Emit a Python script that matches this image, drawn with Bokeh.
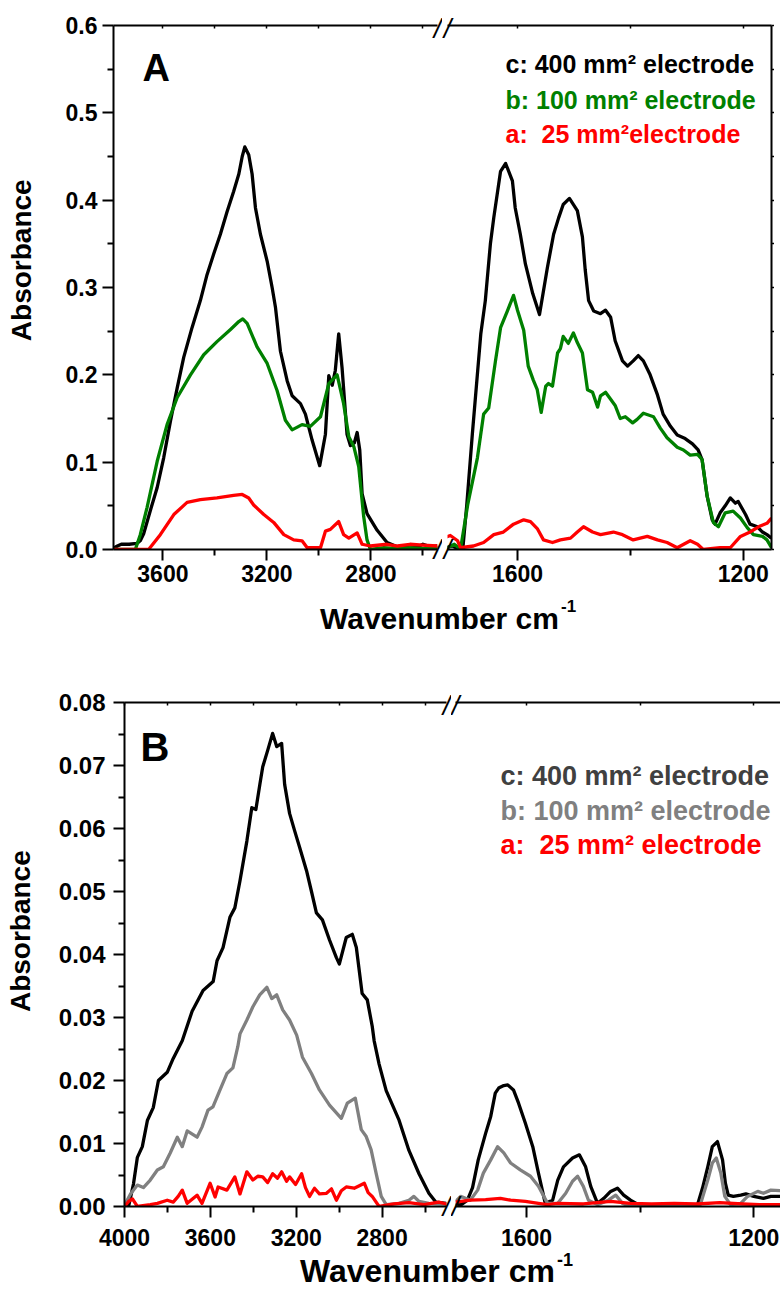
from bokeh.plotting import figure
from bokeh.models import Range1d, LinearAxis, FixedTicker, NumeralTickFormatter, Label, Div
from bokeh.layouts import row, column
from bokeh.embed import file_html
from bokeh.resources import INLINE

FONT = "Liberation Sans"

# ---------------- Panel A data (wavenumber cm-1, absorbance) ----------------
a_left_c_wn = [3800, 3775, 3760, 3730, 3700, 3687, 3674, 3648, 3622, 3597, 3571, 3545, 3520, 3488, 3456,
               3430, 3405, 3379, 3353, 3328, 3308, 3295, 3285, 3270, 3257, 3244, 3225, 3199, 3180, 3167,
               3148, 3122, 3103, 3071, 3052, 3026, 2997, 2975, 2962, 2949, 2937, 2924, 2911, 2892, 2879,
               2864, 2853, 2843, 2834, 2815, 2776, 2738, 2699, 2650, 2620, 2600, 2570, 2544]
a_left_c_abs = [0.000, 0.004, 0.006, 0.006, 0.007, 0.010, 0.018, 0.045, 0.071, 0.105, 0.147, 0.185, 0.220, 0.254, 0.285,
                0.315, 0.338, 0.361, 0.387, 0.410, 0.430, 0.450, 0.461, 0.452, 0.430, 0.391, 0.361, 0.330, 0.300, 0.277,
                0.227, 0.193, 0.176, 0.167, 0.155, 0.125, 0.096, 0.132, 0.199, 0.188, 0.205, 0.247, 0.208, 0.132, 0.119,
                0.122, 0.134, 0.114, 0.064, 0.041, 0.022, 0.008, 0.003, 0.005, 0.003, 0.006, 0.003, 0.004]

a_left_b_wn = [3800, 3706, 3687, 3661, 3622, 3584, 3545, 3494, 3443, 3392, 3340, 3308, 3293, 3276, 3238,
               3199, 3161, 3129, 3103, 3065, 3033, 2994, 2962, 2930, 2905, 2885, 2866, 2847, 2828, 2815,
               2802, 2750, 2700, 2650, 2600, 2544]
a_left_b_abs = [0.000, 0.000, 0.017, 0.048, 0.101, 0.143, 0.174, 0.200, 0.223, 0.238, 0.252, 0.261, 0.264, 0.259, 0.232,
                0.213, 0.182, 0.148, 0.137, 0.143, 0.141, 0.152, 0.190, 0.200, 0.167, 0.129, 0.118, 0.095, 0.038, 0.011,
                0.000, 0.002, 0.001, 0.002, 0.001, 0.002]

a_left_a_wn = [3800, 3655, 3610, 3558, 3507, 3456, 3392, 3328, 3295, 3270, 3251, 3212, 3174, 3135, 3097,
               3065, 3045, 2994, 2975, 2956, 2924, 2905, 2885, 2853, 2834, 2802, 2738, 2698, 2650, 2600, 2544]
a_left_a_abs = [0.000, 0.000, 0.017, 0.040, 0.054, 0.057, 0.059, 0.062, 0.063, 0.059, 0.051, 0.040, 0.031, 0.017, 0.011,
                0.010, 0.002, 0.002, 0.021, 0.023, 0.032, 0.017, 0.013, 0.019, 0.006, 0.004, 0.006, 0.004, 0.006, 0.005, 0.004]

a_right_c_wn = [1728, 1715, 1706, 1697, 1690, 1680, 1665, 1657, 1648, 1642, 1630, 1621, 1609, 1604, 1595,
                1586, 1573, 1561, 1547, 1536, 1527, 1519, 1508, 1494, 1485, 1480, 1474, 1465, 1453, 1444,
                1435, 1427, 1414, 1405, 1395, 1386, 1377, 1365, 1352, 1342, 1329, 1317, 1303, 1290, 1280,
                1273, 1264, 1255, 1250, 1241, 1232, 1223, 1214, 1209, 1196, 1188, 1175, 1166, 1158, 1150]
a_right_c_abs = [0.002, 0.004, 0.001, 0.000, 0.050, 0.132, 0.247, 0.285, 0.350, 0.380, 0.433, 0.442, 0.422, 0.391, 0.361,
                 0.327, 0.293, 0.269, 0.323, 0.361, 0.380, 0.395, 0.402, 0.388, 0.358, 0.320, 0.285, 0.273, 0.270, 0.274,
                 0.266, 0.239, 0.216, 0.210, 0.216, 0.222, 0.216, 0.200, 0.177, 0.155, 0.141, 0.131, 0.127, 0.121, 0.114,
                 0.103, 0.061, 0.034, 0.029, 0.042, 0.050, 0.059, 0.053, 0.055, 0.040, 0.029, 0.026, 0.020, 0.017, 0.013]

a_right_b_wn = [1728, 1712, 1706, 1701, 1688, 1671, 1660, 1651, 1639, 1630, 1618, 1607, 1600, 1589, 1581,
                1572, 1565, 1558, 1550, 1545, 1538, 1529, 1524, 1519, 1510, 1501, 1494, 1485, 1476, 1467,
                1458, 1453, 1444, 1435, 1427, 1418, 1409, 1396, 1388, 1377, 1359, 1347, 1335, 1317, 1306,
                1294, 1281, 1273, 1264, 1253, 1244, 1232, 1218, 1205, 1193, 1182, 1166, 1158, 1150]
a_right_b_abs = [0.001, 0.006, 0.003, 0.000, 0.052, 0.105, 0.155, 0.162, 0.216, 0.254, 0.273, 0.291, 0.274, 0.251, 0.210,
                 0.194, 0.183, 0.157, 0.187, 0.190, 0.187, 0.225, 0.230, 0.244, 0.236, 0.248, 0.237, 0.225, 0.183, 0.180,
                 0.163, 0.176, 0.180, 0.172, 0.165, 0.150, 0.152, 0.145, 0.149, 0.156, 0.152, 0.139, 0.128, 0.117, 0.114,
                 0.108, 0.109, 0.103, 0.061, 0.031, 0.026, 0.042, 0.044, 0.036, 0.025, 0.017, 0.015, 0.011, 0.002]

a_right_a_wn = [1728, 1719, 1706, 1701, 1678, 1660, 1642, 1625, 1607, 1589, 1577, 1565, 1554, 1538, 1524,
                1506, 1494, 1483, 1467, 1453, 1430, 1414, 1395, 1370, 1352, 1335, 1317, 1294, 1281, 1271,
                1241, 1223, 1205, 1188, 1170, 1158, 1150]
a_right_a_abs = [0.014, 0.016, 0.010, 0.002, 0.004, 0.008, 0.017, 0.020, 0.029, 0.034, 0.032, 0.024, 0.011, 0.008, 0.011,
                 0.013, 0.020, 0.026, 0.020, 0.017, 0.020, 0.017, 0.011, 0.015, 0.011, 0.008, 0.002, 0.010, 0.006, 0.000,
                 0.002, 0.002, 0.015, 0.020, 0.027, 0.030, 0.036]

# ---------------- Panel B data ----------------
b_left_c_wn = [4000, 3981, 3958, 3940, 3917, 3893, 3866, 3842, 3801, 3773, 3731, 3685, 3634, 3587, 3569,
               3541, 3509, 3486, 3462, 3430, 3407, 3388, 3369, 3356, 3333, 3310, 3291, 3268, 3254, 3231,
               3208, 3184, 3152, 3129, 3106, 3078, 3045, 3013, 2999, 2967, 2939, 2920, 2893, 2869, 2846,
               2837, 2814, 2781, 2721, 2675, 2628, 2582, 2550, 2500]
b_left_c_abs = [0.0, 0.0, 0.0036, 0.0078, 0.0095, 0.0137, 0.0157, 0.0200, 0.0213, 0.0235, 0.0263, 0.0310, 0.0343, 0.0357, 0.0390,
                0.0411, 0.0459, 0.0474, 0.0517, 0.0580, 0.0633, 0.0630, 0.0671, 0.0698, 0.0724, 0.0751, 0.0730, 0.0735, 0.0670, 0.0624,
                0.0597, 0.0570, 0.0533, 0.0500, 0.0466, 0.0455, 0.0423, 0.0395, 0.0385, 0.0427, 0.0432, 0.0411, 0.0338, 0.0328, 0.0286,
                0.0263, 0.0226, 0.0184, 0.0137, 0.0089, 0.0052, 0.0021, 0.0007, 0.0005]

b_left_b_wn = [4000, 3995, 3972, 3940, 3912, 3880, 3847, 3819, 3787, 3754, 3731, 3708, 3662, 3639, 3611,
               3588, 3555, 3523, 3495, 3472, 3462, 3430, 3402, 3370, 3337, 3314, 3291, 3263, 3231, 3198,
               3171, 3129, 3092, 3045, 2990, 2962, 2925, 2897, 2874, 2851, 2828, 2804, 2781, 2721, 2675,
               2652, 2628, 2582, 2500]
b_left_b_abs = [0.0, 0.0005, 0.0020, 0.0034, 0.0030, 0.0042, 0.0058, 0.0063, 0.0085, 0.0110, 0.0095, 0.0120, 0.0110, 0.0126, 0.0153,
                0.0158, 0.0185, 0.0211, 0.0220, 0.0254, 0.0274, 0.0296, 0.0317, 0.0336, 0.0348, 0.0330, 0.0336, 0.0312, 0.0296, 0.0272,
                0.0237, 0.0211, 0.0185, 0.0161, 0.0140, 0.0164, 0.0172, 0.0122, 0.0111, 0.0090, 0.0053, 0.0016, 0.0003, 0.0005, 0.0010,
                0.0016, 0.0008, 0.0005, 0.0004]

b_left_a_wn = [4000, 3981, 3963, 3940, 3880, 3847, 3801, 3773, 3750, 3731, 3708, 3662, 3639, 3601, 3578,
               3564, 3523, 3486, 3462, 3430, 3402, 3379, 3356, 3333, 3310, 3287, 3268, 3245, 3231, 3203,
               3175, 3157, 3138, 3115, 3092, 3059, 3036, 3013, 2990, 2967, 2930, 2906, 2883, 2865, 2846,
               2814, 2744, 2675, 2605, 2536, 2500]
b_left_a_abs = [0.0, 0.0008, 0.0012, 0.0, 0.0003, 0.0005, 0.0010, 0.0007, 0.0016, 0.0026, 0.0005, 0.0018, 0.0005, 0.0037, 0.0015,
                0.0031, 0.0026, 0.0047, 0.0020, 0.0055, 0.0042, 0.0048, 0.0047, 0.0038, 0.0052, 0.0045, 0.0055, 0.0040, 0.0047, 0.0035,
                0.0052, 0.0030, 0.0016, 0.0029, 0.0020, 0.0021, 0.0028, 0.0010, 0.0025, 0.0031, 0.0029, 0.0033, 0.0037, 0.0022, 0.0016,
                0.0, 0.0004, 0.0006, 0.0003, 0.0007, 0.0004]

b_right_c_wn = [1725, 1716, 1704, 1695, 1685, 1672, 1663, 1655, 1649, 1640, 1633, 1623, 1614, 1602, 1589,
                1579, 1567, 1554, 1545, 1535, 1519, 1507, 1496, 1487, 1475, 1464, 1452, 1440, 1429, 1417,
                1403, 1382, 1346, 1299, 1290, 1281, 1273, 1264, 1255, 1250, 1245, 1236, 1223, 1214, 1200,
                1183, 1170, 1153]
b_right_c_abs = [0.0005, 0.0002, 0.0010, 0.0030, 0.0074, 0.0116, 0.0143, 0.0180, 0.0188, 0.0192, 0.0193, 0.0185, 0.0164, 0.0132, 0.0095,
                 0.0053, 0.0005, 0.0010, 0.0042, 0.0063, 0.0077, 0.0082, 0.0063, 0.0032, 0.0005, 0.0013, 0.0024, 0.0029, 0.0018, 0.0010,
                 0.0003, 0.0002, 0.0002, 0.0003, 0.0030, 0.0063, 0.0095, 0.0103, 0.0074, 0.0037, 0.0018, 0.0016, 0.0018, 0.0020, 0.0016,
                 0.0013, 0.0016, 0.0016]

b_right_b_wn = [1725, 1716, 1704, 1699, 1686, 1676, 1663, 1651, 1640, 1628, 1611, 1593, 1579, 1563, 1545,
                1531, 1519, 1510, 1500, 1491, 1475, 1456, 1443, 1431, 1417, 1294, 1281, 1273, 1266, 1258,
                1251, 1241, 1223, 1211, 1193, 1183, 1170, 1153]
b_right_b_abs = [0.0008, 0.0016, 0.0012, 0.0010, 0.0026, 0.0053, 0.0074, 0.0095, 0.0085, 0.0069, 0.0058, 0.0048, 0.0032, 0.0005, 0.0005,
                 0.0021, 0.0040, 0.0048, 0.0032, 0.0010, 0.0003, 0.0010, 0.0018, 0.0005, 0.0000, 0.0003, 0.0042, 0.0069, 0.0077, 0.0053,
                 0.0016, 0.0003, 0.0005, 0.0016, 0.0024, 0.0021, 0.0026, 0.0025]

b_right_a_wn = [1725, 1699, 1672, 1646, 1628, 1602, 1579, 1563, 1545, 1500, 1452, 1417, 1380, 1340, 1300,
                1260, 1220, 1190, 1153]
b_right_a_abs = [0.0007, 0.0010, 0.0011, 0.0013, 0.0010, 0.0008, 0.0005, 0.0003, 0.0005, 0.0004, 0.0008, 0.0005, 0.0004, 0.0005, 0.0004,
                 0.0006, 0.0004, 0.0003, 0.0003]

# ---------------- ranges / ticks / texts ----------------
A_LEFT_RANGE = (3790, 2544)
A_RIGHT_RANGE = (1724, 1150)
B_LEFT_RANGE = (4000, 2500)
B_RIGHT_RANGE = (1725, 1153)
A_Y_RANGE = (0, 0.6)
B_Y_RANGE = (0, 0.08)

A_LEFT_MAJOR = [3600, 3200, 2800]
A_LEFT_MINOR = [3400, 3000, 2600]
B_LEFT_MAJOR = [4000, 3600, 3200, 2800]
B_LEFT_MINOR = [3800, 3400, 3000, 2600]
RIGHT_MAJOR = [1600, 1200]
RIGHT_MINOR = [1400]
A_Y_MAJOR = [0.0, 0.1, 0.2, 0.3, 0.4, 0.5, 0.6]
A_Y_MINOR = [0.05, 0.15, 0.25, 0.35, 0.45, 0.55]
B_Y_MAJOR = [0.00, 0.01, 0.02, 0.03, 0.04, 0.05, 0.06, 0.07, 0.08]
B_Y_MINOR = [0.005, 0.015, 0.025, 0.035, 0.045, 0.055, 0.065, 0.075]

LEGEND_A = [("c: 400 mm\u00b2 electrode", "#000000"),
            ("b: 100 mm\u00b2 electrode", "#008000"),
            ("a:\u00a0 25 mm\u00b2electrode", "#ff0000")]
LEGEND_B = [("c: 400 mm\u00b2 electrode", "#404040"),
            ("b: 100 mm\u00b2 electrode", "#808080"),
            ("a:\u00a0 25 mm\u00b2 electrode", "#ff0000")]
COLORS_A = {"c": "#000000", "b": "#008000", "a": "#ff0000"}
COLORS_B = {"c": "#000000", "b": "#808080", "a": "#ff0000"}
Y_TITLE = "Absorbance"
X_TITLE = "Wavenumber cm"
X_TITLE_SUP = "-1"


def base_fig(xr, yr, fw, fh, bl, br, bt, bb):
    p = figure(x_range=Range1d(*xr), y_range=Range1d(*yr), frame_width=fw, frame_height=fh,
               min_border_left=bl, min_border_right=br, min_border_top=bt, min_border_bottom=bb,
               x_axis_location=None, y_axis_location=None, title=None, tools="",
               toolbar_location=None, output_backend="svg")
    p.outline_line_color = None
    p.xgrid.visible = False
    p.ygrid.visible = False
    p.background_fill_color = "white"
    p.border_fill_color = "white"
    return p


def style_axis(ax, fs):
    ax.axis_line_width = 2
    ax.axis_line_color = "black"
    ax.major_tick_line_width = 2
    ax.minor_tick_line_width = 2
    ax.major_tick_in = 0
    ax.minor_tick_in = 0
    ax.major_label_text_font = FONT
    ax.major_label_text_font_style = "bold"
    ax.major_label_text_font_size = f"{fs}px"
    ax.major_label_text_color = "black"


def add_x_axes(p, major, minor, fs, standoff):
    ax = LinearAxis(ticker=FixedTicker(ticks=major, minor_ticks=minor))
    style_axis(ax, fs)
    ax.major_tick_out = 11
    ax.minor_tick_out = 6
    ax.major_label_standoff = standoff
    p.add_layout(ax, "below")
    top = LinearAxis(ticker=FixedTicker(ticks=[], minor_ticks=sorted(major + minor)))
    style_axis(top, fs)
    top.minor_tick_in = 3
    top.minor_tick_out = 0
    top.major_tick_out = 0
    top.major_label_standoff = 0
    top.minor_tick_line_width = 1.5
    p.add_layout(top, "above")


def add_break_marks(p, edge, bottom_standoff, top_standoff):
    # "/" axis-break symbols, drawn as tick labels of tick-less, line-less axes
    for place, so in (("below", bottom_standoff), ("above", top_standoff)):
        ax = LinearAxis(ticker=FixedTicker(ticks=[edge], minor_ticks=[]),
                        major_label_overrides={edge: "/"})
        ax.axis_line_color = None
        ax.major_tick_line_color = None
        ax.minor_tick_line_color = None
        ax.major_tick_out = 0
        ax.major_tick_in = 0
        ax.major_label_standoff = so
        ax.major_label_text_font = FONT
        ax.major_label_text_font_style = "italic"
        ax.major_label_text_font_size = "27px"
        ax.major_label_text_color = "black"
        p.add_layout(ax, place)


def add_y_axis(p, major, minor, fs, fmt, standoff, title_standoff, shift):
    ax = LinearAxis(ticker=FixedTicker(ticks=major, minor_ticks=minor),
                    formatter=NumeralTickFormatter(format=fmt))
    style_axis(ax, fs)
    ax.major_tick_out = 11
    ax.minor_tick_out = 6
    ax.major_label_standoff = standoff
    # leading no-break spaces lift the (rotated) title a little above the frame centre, as in the original
    ax.axis_label = "\u00a0" * shift + Y_TITLE
    ax.axis_label_text_font = FONT
    ax.axis_label_text_font_style = "bold"
    ax.axis_label_text_font_size = "28px"
    ax.axis_label_text_color = "black"
    ax.axis_label_standoff = title_standoff
    p.add_layout(ax, "left")


def add_right_axis(p, ticks):
    ax = LinearAxis(ticker=FixedTicker(ticks=[], minor_ticks=ticks))
    style_axis(ax, 10)
    ax.minor_tick_out = 3
    ax.major_tick_out = 0
    ax.major_label_standoff = 0
    ax.minor_tick_line_width = 1.5
    p.add_layout(ax, "right")


def text_label(p, x, y, text, size, color="black"):
    p.add_layout(Label(x=x, y=y, x_units="screen", y_units="screen", text=text,
                       text_font=FONT, text_font_style="bold", text_font_size=f"{size}px",
                       text_color=color, text_align="left", text_baseline="alphabetic"))


LW = 3.3

# ---------------- Panel A ----------------
AFH = 524
aL = base_fig(A_LEFT_RANGE, A_Y_RANGE, 324, AFH, 113, 5, 25, 46)
aR = base_fig(A_RIGHT_RANGE, A_Y_RANGE, 324, AFH, 5, 3, 25, 46)
add_x_axes(aL, A_LEFT_MAJOR, A_LEFT_MINOR, 23, 4)
add_x_axes(aR, RIGHT_MAJOR, RIGHT_MINOR, 23, 4)
add_y_axis(aL, A_Y_MAJOR, A_Y_MINOR, 23, "0.0", 5, 26, 7)
add_right_axis(aR, sorted(A_Y_MAJOR + A_Y_MINOR))
add_break_marks(aL, A_LEFT_RANGE[1], -50, -18)
add_break_marks(aR, A_RIGHT_RANGE[0], -50, -18)

for p, series in ((aL, [(a_left_c_wn, a_left_c_abs, "c"), (a_left_b_wn, a_left_b_abs, "b"), (a_left_a_wn, a_left_a_abs, "a")]),
                  (aR, [(a_right_c_wn, a_right_c_abs, "c"), (a_right_b_wn, a_right_b_abs, "b"), (a_right_a_wn, a_right_a_abs, "a")])):
    for xs, ys, key in series:
        p.line(xs, ys, line_color=COLORS_A[key], line_width=LW, line_join="round")

text_label(aL, 29, 482, "A", 38)
for i, (t, c) in enumerate(LEGEND_A):
    text_label(aR, 58, [486, 450, 416][i], t, 25, color=c)

# ---------------- Panel B ----------------
BFH = 504
bL = base_fig(B_LEFT_RANGE, B_Y_RANGE, 322, BFH, 124, 5, 47, 48)
bR = base_fig(B_RIGHT_RANGE, B_Y_RANGE, 325, BFH, 4, 0, 47, 48)
add_x_axes(bL, B_LEFT_MAJOR, B_LEFT_MINOR, 23, 11)
add_x_axes(bR, RIGHT_MAJOR, RIGHT_MINOR, 23, 11)
add_y_axis(bL, B_Y_MAJOR, B_Y_MINOR, 24, "0.00", 8, 20, 6)
add_break_marks(bL, B_LEFT_RANGE[1], -57, -18)
add_break_marks(bR, B_RIGHT_RANGE[0], -57, -18)

for p, series in ((bL, [(b_left_c_wn, b_left_c_abs, "c"), (b_left_b_wn, b_left_b_abs, "b"), (b_left_a_wn, b_left_a_abs, "a")]),
                  (bR, [(b_right_c_wn, b_right_c_abs, "c"), (b_right_b_wn, b_right_b_abs, "b"), (b_right_a_wn, b_right_a_abs, "a")])):
    for xs, ys, key in series:
        p.line(xs, ys, line_color=COLORS_B[key], line_width=LW, line_join="round")

text_label(bL, 16, 460, "B", 40)
for i, (t, c) in enumerate(LEGEND_B):
    text_label(bR, 45, [431, 396, 362][i], t, 27, color=c)


def xlabel_div(size, sup_size, left, pad_top, line_h, height, sup_top):
    html = (f'<div style="margin-left:{left}px;padding-top:{pad_top}px;font-family:\'{FONT}\',Arial,sans-serif;'
            f'font-weight:bold;font-size:{size}px;line-height:{line_h}px;white-space:nowrap;color:#000">'
            f'{X_TITLE}<span style="position:relative;top:{sup_top}px;font-size:{sup_size}px;'
            f'margin-left:2px">{X_TITLE_SUP}</span></div>')
    return Div(text=html, width=774, height=height, margin=(0, 0, 0, 0))


divA = xlabel_div(30, 17, 320, 9, 30, 60, -17)
divB = xlabel_div(32, 18, 300, 4, 26, 37, -16)

layout = column(row(aL, aR), divA, row(bL, bR), divB)

with open("out.html", "w") as f:
    f.write(file_html(layout, INLINE))
